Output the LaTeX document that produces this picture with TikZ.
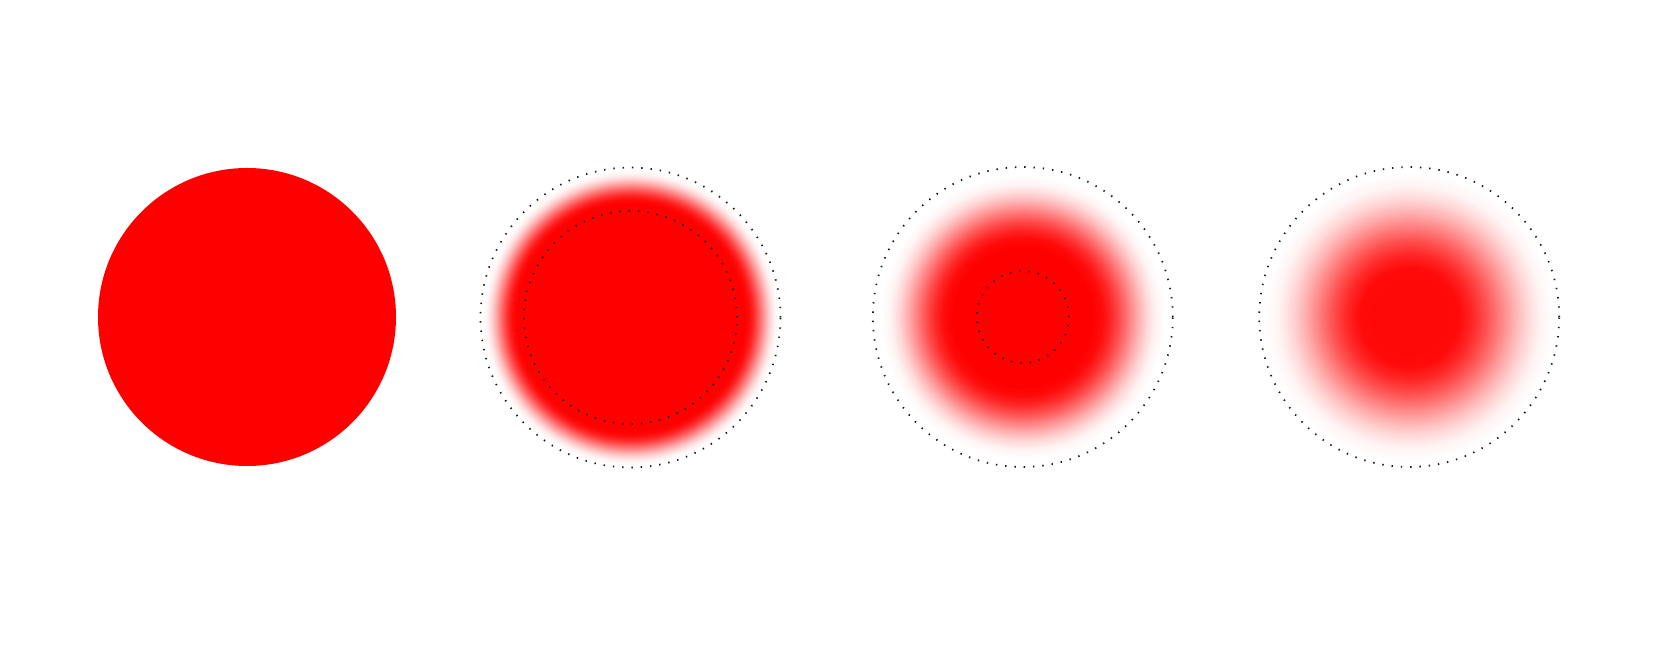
\documentclass[tikz,border=0pt]{standalone}
\usetikzlibrary{shadings}
\colorlet{fa}{red!95.7!white}
\colorlet{fb}{red!84.4!white}
\colorlet{fc}{red!68.4!white}
\colorlet{fd}{red!50!white}
\colorlet{fe}{red!31.6!white}
\colorlet{ff}{red!15.6!white}
\colorlet{fg}{red!4.3!white}
\pgfdeclareradialshading{fadeA}{\pgfpointorigin}{color(0bp)=(red); color(19bp)=(red); color(19.71bp)=(fa); color(20.42bp)=(fb); color(21.125bp)=(fc); color(21.83bp)=(fd); color(22.54bp)=(fe); color(23.25bp)=(ff); color(23.96bp)=(fg); color(24.67bp)=(white); color(50bp)=(white)}
\pgfdeclareradialshading{fadeB}{\pgfpointorigin}{color(0bp)=(red); color(11.67bp)=(red); color(13.17bp)=(fa); color(14.67bp)=(fb); color(16.17bp)=(fc); color(17.67bp)=(fd); color(19.17bp)=(fe); color(20.67bp)=(ff); color(22.17bp)=(fg); color(23.67bp)=(white); color(50bp)=(white)}
\pgfdeclareradialshading{fadeC}{\pgfpointorigin}{color(0bp)=(red!97!white); color(6bp)=(red!97!white); color(8.27bp)=(fa); color(10.54bp)=(fb); color(12.81bp)=(fc); color(15.08bp)=(fd); color(17.35bp)=(fe); color(19.63bp)=(ff); color(21.9bp)=(fg); color(24.17bp)=(white); color(50bp)=(white)}
\tikzset{
  dotring/.style={draw=black!90, line width=0.5pt, dash pattern=on 0.4pt off 2.25pt},
}
\begin{document}
\begin{tikzpicture}
\useasboundingbox[fill=white] (0,0) rectangle (16.54,6.61);
\coordinate (c1) at (2.47,3.44);
\coordinate (c2) at (6.305,3.435);
\coordinate (c3) at (10.228,3.44);
\coordinate (c4) at (14.092,3.44);
% solid disc
\fill[red] (c1) circle[radius=1.49cm];
% faded discs
\shade[shading=fadeA] (c2) circle[radius=1.5cm];
\shade[shading=fadeB] (c3) circle[radius=1.5cm];
\shade[shading=fadeC] (c4) circle[radius=1.5cm];
% dotted rings
\draw[dotring] (c2) circle[radius=1.5cm];
\draw[dotring] (c2) circle[radius=1.065cm];
\draw[dotring] (c3) circle[radius=1.5cm];
\draw[dotring] (c3) circle[radius=0.46cm];
\draw[dotring] (c4) circle[radius=1.5cm];
\end{tikzpicture}
\end{document}
